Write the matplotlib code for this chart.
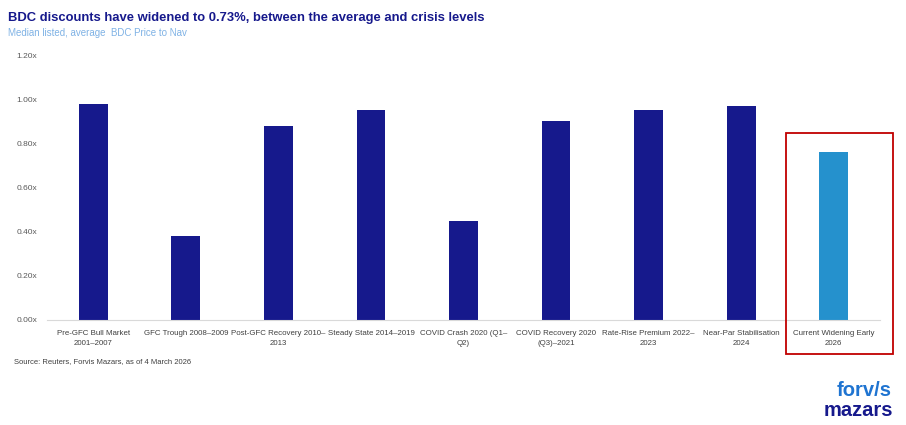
import matplotlib

matplotlib.use("Agg")
import matplotlib.pyplot as plt
from matplotlib.patches import Rectangle

plt.rcParams["font.family"] = ["Liberation Sans", "DejaVu Sans"]

categorias = [
    "Pre-GFC Bull Market\n2001\u20132007",
    "GFC Trough 2008\u20132009",
    "Post-GFC Recovery 2010\u2013\n2013",
    "Steady State 2014\u20132019",
    "COVID Crash 2020 (Q1\u2013\nQ2)",
    "COVID Recovery 2020\n(Q3)\u20132021",
    "Rate-Rise Premium 2022\u2013\n2023",
    "Near-Par Stabilisation\n2024",
    "Current Widening Early\n2026",
]
valores = [0.98, 0.38, 0.88, 0.95, 0.45, 0.90, 0.95, 0.97, 0.76]
cores = ["#16198c"] * 8 + ["#2591cd"]
ticks_y = [0.0, 0.2, 0.4, 0.6, 0.8, 1.0, 1.2]

fig = plt.figure(figsize=(9.06, 4.25), dpi=100)
ax = fig.add_axes([47 / 906, 1 - 320 / 425, (880 - 47) / 906, 265 / 425])

x = range(len(categorias))
ax.bar(x, valores, width=0.31, color=cores)
ax.set_xlim(-0.5, len(categorias) - 0.5)
ax.set_ylim(0, 1.2)
ax.set_yticks(ticks_y)
ax.set_yticklabels([f"{v:.2f}x" for v in ticks_y], fontsize=6, color="#595959")
ax.set_xticks(list(x))
ax.set_xticklabels(categorias, fontsize=5.7, color="#404040", linespacing=1.65)
ax.tick_params(axis="both", length=0, pad=7)
for lado in ("top", "right", "left"):
    ax.spines[lado].set_visible(False)
ax.spines["bottom"].set_color("#d9d9d9")

# caixa vermelha em volta da ultima barra
fig.patches.append(
    Rectangle(
        (786 / 906, 1 - 354 / 425),
        (893 - 786) / 906,
        (354 - 133) / 425,
        transform=fig.transFigure,
        fill=False,
        edgecolor="#c00000",
        linewidth=1.3,
    )
)

fig.text(8 / 906, 1 - 18 / 425, "BDC discounts have widened to 0.73%, between the average and crisis levels",
         fontsize=9.4, fontweight="bold", color="#16198c", va="center")
fig.text(8 / 906, 1 - 33 / 425, "Median listed, average  BDC Price to Nav",
         fontsize=7, color="#7fb2e5", va="center")
fig.text(14 / 906, 1 - 362 / 425, "Source: Reuters, Forvis Mazars, as of 4 March 2026",
         fontsize=5.5, color="#404040", va="center")

# logo em texto
fig.text(892 / 906, 1 - 390 / 425, "forv/s", fontsize=14.5, fontweight="bold", color="#1f74d1",
         ha="right", va="center")
fig.text(893 / 906, 1 - 410 / 425, "mazars", fontsize=14.5, fontweight="bold", color="#16198c",
         ha="right", va="center")

fig.savefig("out.png", dpi=100)
